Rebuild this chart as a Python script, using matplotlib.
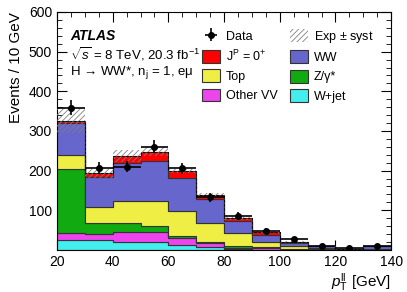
import numpy as np
import matplotlib
matplotlib.use("Agg")
import matplotlib.pyplot as plt
from matplotlib.patches import Patch
from matplotlib.ticker import MultipleLocator

plt.rcParams['font.family'] = ['Liberation Sans', 'DejaVu Sans']
plt.rcParams['mathtext.fontset'] = 'custom'
plt.rcParams['mathtext.rm'] = 'Liberation Sans'
plt.rcParams['mathtext.it'] = 'Liberation Sans:italic'
plt.rcParams['mathtext.bf'] = 'Liberation Sans:bold'
plt.rcParams['hatch.linewidth'] = 0.6

# ---- data ----
edges = [20, 30, 40, 50, 60, 70, 80, 90, 100, 110, 120, 130, 140]
wjet    = [25, 24, 21, 21, 13, 8, 2, 1, 0.5, 0.3, 0.2, 0.2]
othervv = [19, 16, 25, 25, 16, 9, 4, 3, 1.5, 0.7, 0.3, 0.5]
zgamma  = [159, 29, 21, 14, 7, 4, 5, 4, 1, 0.5, 0.2, 0.3]
top     = [36, 39, 57, 64, 61, 48, 31, 13, 6, 2.5, 1, 2]
ww      = [80, 75, 95, 101, 84, 59, 32, 17, 8, 5, 1.5, 6]
signal  = [7, 10, 18, 23, 18, 11, 6, 7, 4, 0.5, 0.3, 0.5]
syst    = [32, 11, 15, 11, 5, 5, 4, 3, 2, 1, 0.5, 1]
data    = [359, 207, 210, 260, 206, 133, 86, 48, 27, 10, 5, 11]

layers = [
    ("W+jet", wjet, "#44eeee"),
    ("Other VV", othervv, "#ee44ee"),
    (r"Z/γ*", zgamma, "#11aa11"),
    ("Top", top, "#eeee44"),
    ("WW", ww, "#6666cc"),
    (r"J$^{\rm P}$ = 0$^{+}$", signal, "#ff0000"),
]

fig = plt.figure(figsize=(4.07, 2.92), dpi=100)
ax = fig.add_axes([0.140, 0.144, 0.821, 0.815])

edges_a = np.array(edges, dtype=float)
centers = 0.5 * (edges_a[1:] + edges_a[:-1])
bottom = np.zeros(len(centers))
handles = {}
for name, vals, col in layers:
    vals = np.array(vals, dtype=float)
    ax.stairs(bottom + vals, edges_a, baseline=bottom, fill=True,
              facecolor=col, edgecolor="#333333", linewidth=0.8, zorder=2)
    handles[name] = Patch(facecolor=col, edgecolor="#333333", linewidth=0.8)
    bottom = bottom + vals
total = bottom

# hatch band
syst_a = np.array(syst, dtype=float)
ax.stairs(total + syst_a, edges_a, baseline=total - syst_a, fill=True,
          facecolor="none", edgecolor="#808080", hatch="//////",
          linewidth=0, zorder=3)
ax.stairs(total, edges_a, baseline=None, color="black", linewidth=0.6,
          linestyle=(0, (3, 2)), zorder=3)
hatch_handle = Patch(facecolor="none", edgecolor="#808080", hatch="//////",
                     linewidth=0)

data_a = np.array(data, dtype=float)
eb = ax.errorbar(centers, data_a, xerr=5, yerr=np.sqrt(data_a), fmt="o",
                 color="black", ms=4, elinewidth=1.2, capsize=0, zorder=5)

ax.set_xlim(20, 140)
ax.set_ylim(0, 600)
ax.xaxis.set_major_locator(MultipleLocator(20))
ax.xaxis.set_minor_locator(MultipleLocator(5))
ax.yaxis.set_major_locator(MultipleLocator(100))
ax.yaxis.set_minor_locator(MultipleLocator(20))
ax.tick_params(which="both", direction="in", top=True, right=True, labelsize=10)
ax.tick_params(which="major", length=7)
ax.tick_params(which="minor", length=3.5)
ax.set_yticks([100, 200, 300, 400, 500, 600])
ax.set_xticks([20, 40, 60, 80, 100, 120, 140])

ax.set_ylabel("Events / 10 GeV", fontsize=11, loc="top")
ax.set_xlabel(r"$p_{\rm T}^{\rm ll}$ [GeV]", fontsize=11, loc="right", labelpad=2)

ax.text(0.04, 0.90, "ATLAS", transform=ax.transAxes, fontsize=10,
        fontweight="bold", fontstyle="italic", va="center")
ax.text(0.04, 0.825, r"$\sqrt{s}$ = 8 TeV, 20.3 fb$^{-1}$", transform=ax.transAxes,
        fontsize=9.5, va="center")
ax.text(0.04, 0.745, r"H → WW*, n$_{\rm j}$ = 1, eμ", transform=ax.transAxes,
        fontsize=9.5, va="center")

leg_handles = [eb, handles[r"J$^{\rm P}$ = 0$^{+}$"], handles["Top"], handles["Other VV"],
               hatch_handle, handles["WW"], handles[r"Z/γ*"], handles["W+jet"]]
leg_labels = ["Data", r"J$^{\rm P}$ = 0$^{+}$", "Top", "Other VV",
              r"Exp $\pm$ syst", "WW", r"Z/γ*", "W+jet"]
ax.legend(leg_handles, leg_labels, loc="upper left", bbox_to_anchor=(0.42, 0.95),
          ncol=2, frameon=False, fontsize=9, handlelength=1.4, handleheight=1.2,
          labelspacing=0.45, columnspacing=1.0, handletextpad=0.5, borderaxespad=0)

fig.savefig("out.png", dpi=100)
